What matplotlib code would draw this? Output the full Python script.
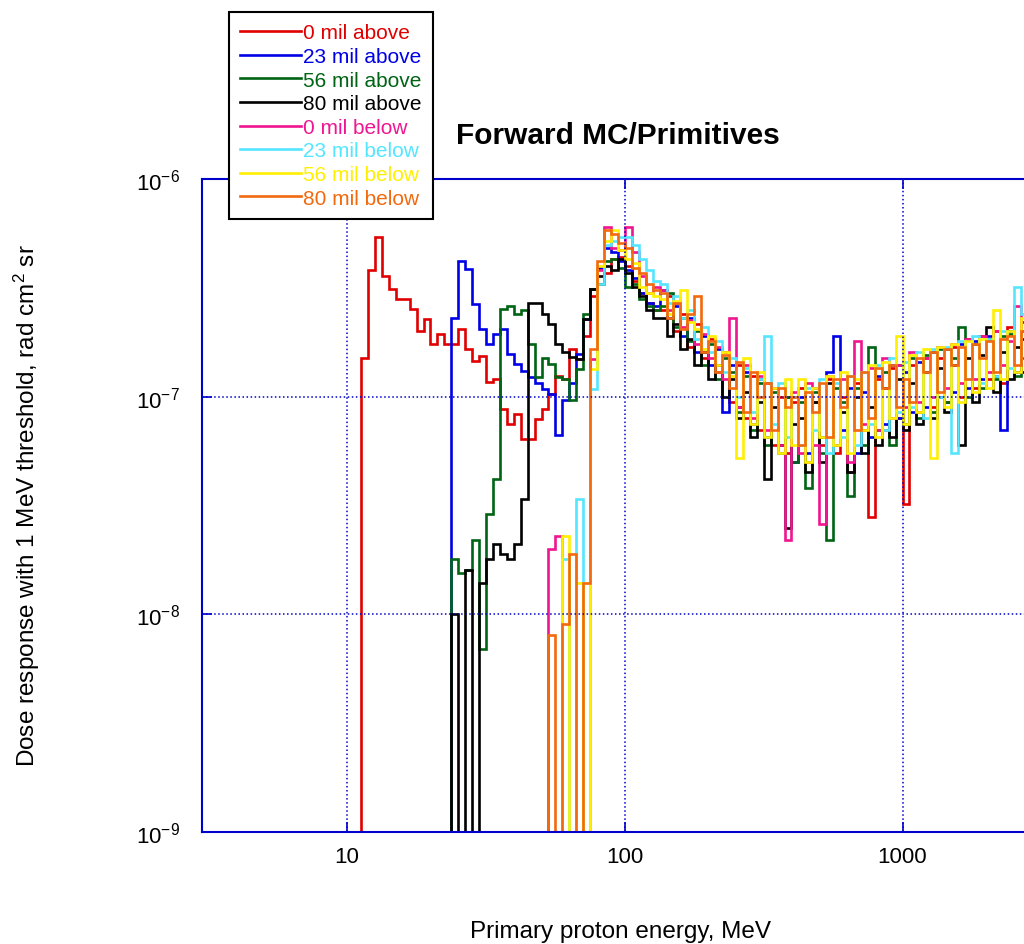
import numpy as np
import matplotlib
matplotlib.use("Agg")
import matplotlib.pyplot as plt
from matplotlib.ticker import NullLocator

plt.rcParams['font.family'] = ['Liberation Sans', 'DejaVu Sans']
plt.rcParams['mathtext.default'] = 'regular'

# Energy binning of the histograms: 40 log bins per decade starting at 10 MeV
bins_per_decade = 40
start_energy = 10.0

# Dose response per bin, in units of 1e-9 rad cm^2 sr (0 = empty bin)
red = [0, 0, 150, 380, 540, 360, 313, 281, 281, 253,
       200, 228, 175, 194, 175, 175, 205, 166, 146, 153,
       117, 121, 88, 75, 83, 64, 64, 79, 88, 103,
       125, 121, 166, 149, 190, 290, 330, 370, 430, 440,
       400, 340, 300, 270, 250, 250, 290, 200, 240, 170,
       215, 150, 185, 130, 160, 95, 140, 80, 125, 70,
       115, 60, 100, 55, 95, 110, 50, 95, 60, 120,
       55, 100, 45, 115, 70, 28, 120, 70, 135, 80,
       32, 140, 85, 150, 90, 150, 95, 170, 100, 185,
       110, 190, 120, 200, 115, 210, 130, 220, 150]

blue = [0, 0, 0, 0, 0, 0, 0, 0, 0, 0,
        0, 0, 0, 0, 0, 230, 420, 385, 267, 205,
        175, 194, 205, 157, 141, 131, 123, 115, 109, 103,
        67, 97, 115, 157, 228, 313, 390, 480, 460, 420,
        380, 350, 300, 270, 260, 310, 230, 260, 190, 230,
        160, 190, 140, 165, 85, 140, 90, 130, 75, 120,
        65, 110, 60, 100, 50, 100, 55, 110, 65, 130,
        190, 70, 110, 55, 105, 65, 125, 75, 140, 80,
        130, 85, 145, 90, 160, 100, 165, 105, 175, 110,
        180, 120, 190, 125, 70, 200, 130, 185, 140]

green = [0, 0, 0, 0, 0, 0, 0, 0, 0, 0,
         0, 0, 0, 0, 0, 18, 15.5, 16, 22, 6.9,
         29, 42, 253, 260, 240, 250, 175, 123, 150, 141,
         123, 121, 97, 134, 240, 313, 330, 420, 430, 390,
         320, 330, 280, 260, 250, 260, 300, 210, 230, 180,
         200, 140, 175, 120, 150, 130, 85, 125, 70, 115,
         60, 105, 55, 100, 50, 95, 38, 105, 55, 22,
         110, 95, 35, 110, 60, 170, 70, 130, 60, 140,
         75, 150, 80, 155, 85, 165, 95, 150, 210, 100,
         175, 110, 185, 120, 190, 195, 125, 200, 140]

black = [0, 0, 0, 0, 0, 0, 0, 0, 0, 0,
         0, 0, 0, 0, 0, 10, 0, 16, 0, 14,
         18, 21, 19, 18, 21, 34, 270, 270, 240, 216,
         175, 160, 152, 149, 228, 313, 360, 400, 380, 430,
         370, 320, 290, 250, 230, 230, 190, 215, 165, 185,
         140, 160, 120, 140, 100, 120, 80, 105, 65, 95,
         42, 90, 60, 25, 75, 80, 45, 95, 50, 115,
         60, 85, 45, 100, 55, 90, 60, 110, 65, 120,
         70, 115, 75, 130, 80, 135, 85, 140, 60, 150,
         95, 155, 210, 105, 160, 120, 170, 130, 175]

pink = [0, 0, 0, 0, 0, 0, 0, 0, 0, 0,
        0, 0, 0, 0, 0, 0, 0, 0, 0, 0,
        0, 0, 0, 0, 0, 0, 0, 0, 0, 20,
        23, 0, 0, 0, 0, 149, 380, 600, 480, 470,
        600, 460, 360, 300, 320, 310, 250, 270, 210, 225,
        175, 195, 150, 170, 120, 230, 90, 140, 80, 125,
        70, 110, 60, 22, 105, 55, 115, 60, 26, 125,
        60, 120, 50, 180, 75, 135, 70, 150, 80, 140,
        90, 160, 95, 150, 100, 170, 110, 175, 115, 185,
        120, 190, 130, 200, 140, 180, 260, 150, 210]

cyan = [0, 0, 0, 0, 0, 0, 0, 0, 0, 0,
        0, 0, 0, 0, 0, 0, 0, 0, 0, 0,
        0, 0, 0, 0, 0, 0, 0, 0, 0, 0,
        0, 18, 0, 34, 0, 109, 330, 500, 520, 540,
        540, 500, 430, 380, 340, 330, 270, 290, 230, 250,
        185, 210, 160, 180, 130, 150, 100, 135, 85, 120,
        190, 75, 115, 65, 100, 60, 110, 70, 120, 55,
        115, 65, 125, 60, 130, 75, 140, 70, 150, 85,
        145, 90, 160, 80, 165, 100, 170, 55, 180, 120,
        190, 115, 185, 125, 200, 135, 320, 240, 150]

yellow = [0, 0, 0, 0, 0, 0, 0, 0, 0, 0,
          0, 0, 0, 0, 0, 0, 0, 0, 0, 0,
          0, 0, 0, 0, 0, 0, 0, 0, 0, 0,
          0, 23, 0, 14, 0, 134, 400, 520, 580, 470,
          430, 410, 320, 300, 290, 280, 240, 275, 310, 220,
          205, 165, 190, 140, 160, 125, 52, 150, 75, 130,
          65, 110, 55, 120, 60, 120, 50, 110, 65, 125,
          60, 130, 55, 120, 70, 140, 65, 145, 80, 190,
          75, 155, 85, 165, 52, 170, 90, 175, 95, 180,
          105, 185, 110, 250, 120, 200, 130, 230, 150]

orange = [0, 0, 0, 0, 0, 0, 0, 0, 0, 0,
          0, 0, 0, 0, 0, 0, 0, 0, 0, 0,
          0, 0, 0, 0, 0, 0, 0, 0, 0, 8,
          0, 9, 19, 0, 14, 166, 420, 580, 560, 510,
          480, 390, 370, 330, 310, 300, 230, 270, 205, 240,
          290, 160, 180, 130, 155, 110, 145, 85, 130, 100,
          115, 70, 110, 90, 100, 60, 105, 85, 115, 65,
          120, 90, 125, 70, 130, 80, 135, 110, 140, 90,
          120, 95, 150, 130, 160, 105, 165, 140, 170, 120,
          175, 150, 180, 130, 185, 190, 140, 200, 145]

series = [red, blue, green, black, pink, cyan, yellow, orange]
labels = ['0 mil above', '23 mil above', '56 mil above', '80 mil above',
          '0 mil below', '23 mil below', '56 mil below', '80 mil below']
colors = ['#e00000', '#0000e6', '#006414', '#000000',
          '#f01590', '#55e6ff', '#ffef00', '#f26a10']
x_ticks = [10, 100, 1000]

edges = start_energy * 10 ** (np.arange(len(red) + 1) / bins_per_decade)

axis_blue = '#0000cc'

fig = plt.figure(figsize=(10.24, 9.45), dpi=100)
ax = fig.add_axes([202 / 1024, 112 / 945, 833 / 1024, 653 / 945])

for vals, col, lab in zip(series, colors, labels):
    y = np.asarray(vals, dtype=float) * 1e-9
    y = np.where(y > 0, y, 1e-12)  # empty bins drop below the axis
    ax.stairs(y, edges, baseline=None, color=col, linewidth=1.9, label=lab)

ax.set_xscale('log')
ax.set_yscale('log')
ax.set_xlim(3, 3000)
ax.set_ylim(1e-9, 1e-6)
ax.set_xticks(x_ticks)
ax.set_xticklabels([str(t) for t in x_ticks])
ax.xaxis.set_minor_locator(NullLocator())
ax.yaxis.set_minor_locator(NullLocator())

ax.grid(True, which='major', color=axis_blue, linestyle=':', linewidth=1.1)
for sp in ax.spines.values():
    sp.set_color(axis_blue)
    sp.set_linewidth(1.5)
ax.tick_params(which='major', direction='in', color=axis_blue, length=7,
               width=1.2, top=True, right=True, labelsize=16)
ax.tick_params(axis='x', pad=10)
ax.tick_params(axis='y', pad=16)

# titles and labels placed as in the original figure
fig.text(618 / 1024, 1 - 136 / 945, 'Forward MC/Primitives', ha='center',
         va='center', fontsize=21.5, fontweight='bold')
fig.text(620 / 1024, 1 - 932 / 945, 'Primary proton energy, MeV', ha='center',
         va='center', fontsize=17.5)
fig.text(27 / 1024, 1 - 506 / 945,
         'Dose response with 1 MeV threshold, rad cm$^2$ sr',
         rotation=90, ha='center', va='center', fontsize=17.5)

leg = ax.legend(loc='upper left', bbox_to_anchor=(229 / 1024, 1 - 13 / 945),
                bbox_transform=fig.transFigure, borderaxespad=0, fontsize=15,
                handlelength=2.9, handletextpad=0.12, labelspacing=0.22,
                borderpad=0.55, fancybox=False, framealpha=1, edgecolor='black')
leg.get_frame().set_linewidth(1.5)
for txt, col in zip(leg.get_texts(), colors):
    txt.set_color(col)

fig.savefig('out.png', dpi=100)
